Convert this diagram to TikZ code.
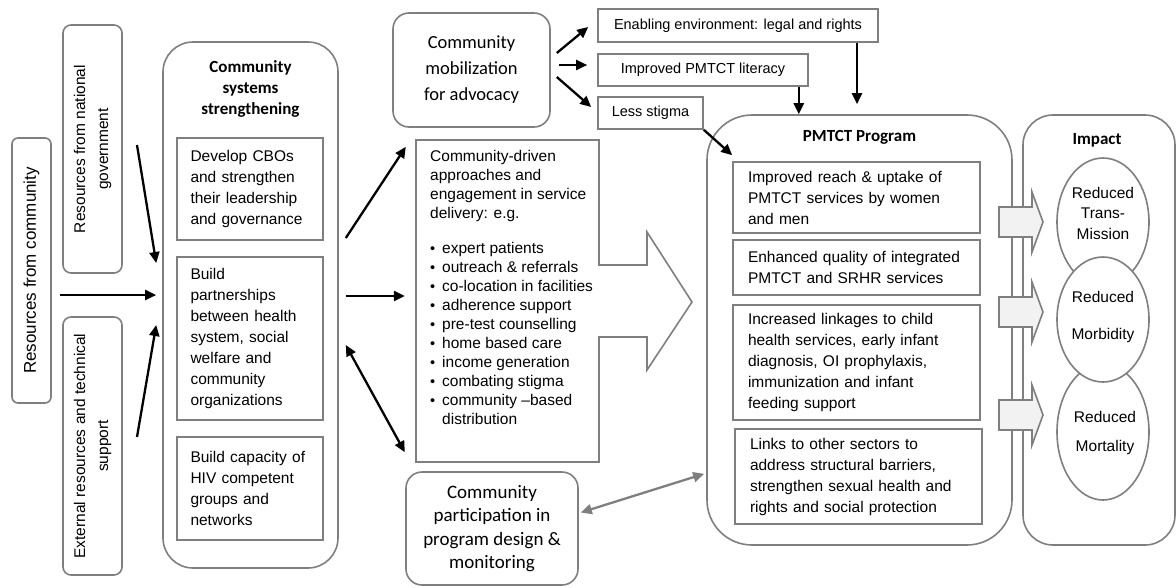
\documentclass[tikz,border=0pt]{standalone}
\usepackage{fontspec}
\setmainfont{Liberation Sans}
\newfontfamily\calfont{Carlito}
\usetikzlibrary{arrows.meta,shapes.geometric,calc}
\definecolor{bord}{HTML}{7F7F7F}
\definecolor{arrfill}{HTML}{F2F2F2}
\newcommand\bul{\makebox[12pt][l]{\fontsize{14.5}{14}\selectfont\textbullet}}
\begin{document}
\begin{tikzpicture}[x=1pt,y=-1pt,
  box/.style={draw=bord, line width=1.6pt, inner sep=0pt, fill=white},
  rbox/.style={box, rounded corners=#1},
  body/.style={font=\fontsize{15.5}{21}\selectfont},
  tbox/.style={box, body, align=left, inner xsep=14pt},
  ttl/.style={font=\calfont\bfseries\fontsize{17}{21}\selectfont, align=center, inner sep=0pt},
  small/.style={box, font=\fontsize{14.5}{17}\selectfont},
  ell/.style={ellipse, draw=bord, line width=1.6pt, fill=white, inner sep=0pt, minimum width=92pt},
  etxt/.style={inner sep=0pt, align=center},
  arr/.style={line width=2.3pt, -{Triangle[length=11pt,width=10pt]}},
  darr/.style={line width=2.3pt, {Triangle[length=11pt,width=10pt]}-{Triangle[length=11pt,width=10pt]}},
  garr/.style={draw=bord, line width=2.3pt, {Triangle[length=11pt,width=10pt]}-{Triangle[length=11pt,width=10pt]}},
  fat/.style={draw=bord, line width=1.6pt, fill=arrfill, line join=miter}
]
\useasboundingbox (0,0) rectangle (1176,587);

% left resources
\node[rbox=6pt, rotate=90, minimum width=265pt, minimum height=39pt, font=\fontsize{17}{20}\selectfont] (rc) at (31.5,270.5) {Resources from community};
\node[rbox=8pt, rotate=90, minimum width=248pt, minimum height=59pt, align=center, font=\fontsize{15.5}{23}\selectfont] (rng) at (92.5,149) {Resources from national\\government};
\node[rbox=8pt, rotate=90, minimum width=258pt, minimum height=59pt, align=center, font=\fontsize{15.5}{23}\selectfont] (ext) at (92.5,446) {External resources and technical\\support};

% community systems strengthening
\node[rbox=30pt, minimum width=175pt, minimum height=526pt] (css) at (250.5,305) {};
\node[ttl] (csst) at (250.5,89) {Community\\systems\\strengthening};
\node[tbox, inner xsep=13.5pt, minimum width=146pt, minimum height=102pt, text width=119pt] (c1) at (250,189) {Develop CBOs\\and strengthen\\their leadership\\and governance};
\node[tbox, inner xsep=13.5pt, minimum width=146pt, minimum height=163pt, text width=119pt] (c2) at (250,338.5) {Build\\partnerships\\between health\\system, social\\welfare and\\community\\organizations};
\node[tbox, inner xsep=13.5pt, minimum width=146pt, minimum height=103pt, text width=119pt] (c3) at (250,488.5) {Build capacity of\\HIV competent\\groups and\\networks};

% mobilization
\node[rbox=16pt, minimum width=157pt, minimum height=114pt, align=center, font=\calfont\fontsize{18.5}{26}\selectfont] (mob) at (471.5,70) {Community\\mobilization\\for advocacy};
\node[small, minimum width=280pt, minimum height=33pt] (env) at (738,25.5) {Enabling environment: legal and rights};
\node[small, minimum width=210pt, minimum height=32pt] (lit) at (703,70) {Improved PMTCT literacy};
\node[small, minimum width=105pt, minimum height=32pt] (stig) at (650.5,113) {Less stigma};

% community-driven approaches (box with fat arrow)
\node[inner sep=0pt, minimum width=183pt, minimum height=322pt] (cda) at (507.5,301) {};
\draw[box, line join=miter] (416,140) -- (599,140) -- (599,265) -- (647,265) -- (647,232) -- (692,302) -- (647,370) -- (647,337) -- (599,337) -- (599,462) -- (416,462) -- cycle;
\node[anchor=north west, inner sep=0pt, align=left, font=\fontsize{15.5}{19}\selectfont] (cdat) at (430,150) {Community-driven\\approaches and\\engagement in service\\delivery: e.g.\\[16pt]\bul expert patients\\\bul outreach \& referrals\\\bul co-location in facilities\\\bul adherence support\\\bul pre-test counselling\\\bul home based care\\\bul income generation\\\bul combating stigma\\\bul community --based\\\hspace*{12pt}distribution};

% participation
\node[rbox=16pt, minimum width=172pt, minimum height=113pt, align=center, font=\calfont\fontsize{19}{23.3}\selectfont] (part) at (492,528.5) {Community\\participation in\\program design \&\\monitoring};

% PMTCT program
\node[rbox=45pt, minimum width=305pt, minimum height=430pt] (pm) at (859.5,330) {};
\node[ttl] (pmt) at (859.5,137) {PMTCT Program};
\node[tbox, inner xsep=15pt, minimum width=247pt, minimum height=71pt, text width=217pt] (p1) at (856.5,197.5) {Improved reach \& uptake of\\PMTCT services by women\\and men};
\node[tbox, inner xsep=15pt, minimum width=247pt, minimum height=55pt, text width=217pt] (p2) at (856.5,267.5) {Enhanced quality of integrated\\PMTCT and SRHR services};
\node[tbox, inner xsep=15pt, minimum width=247pt, minimum height=115pt, text width=217pt] (p3) at (856.5,362.5) {Increased linkages to child\\health services, early infant\\diagnosis, OI prophylaxis,\\immunization and infant\\feeding support};
\node[tbox, inner xsep=15pt, minimum width=247pt, minimum height=95pt, text width=217pt] (p4) at (858.5,476.5) {Links to other sectors to\\address structural barriers,\\strengthen sexual health and\\rights and social protection};

% Impact
\node[rbox=30pt, minimum width=152pt, minimum height=430pt] (imp) at (1099,330) {};
\node[ttl] (impt) at (1097,140) {Impact};

\foreach \c in {222,312,415}
  \draw[fat] (999,\c-15) -- (1032,\c-15) -- (1032,\c-30) -- (1043,\c) -- (1032,\c+30) -- (1032,\c+15) -- (999,\c+15) -- cycle;

\node[ell, minimum height=128pt] (e1) at (1103,222) {};
\node[ell, minimum height=136pt] (e3) at (1103,432) {};
\node[ell, minimum height=125pt] (e2) at (1103,319.5) {};
\node[etxt, body, font=\fontsize{15.5}{20.5}\selectfont] (e1t) at (1103,213) {Reduced\\Trans-\\Mission};
\node[etxt, body] (e2t) at (1103,316.5) {Reduced\\[16pt]Morbidity};
\node[etxt, body] (e3t) at (1105,432.5) {Reduced\\[8pt]Mortality};

% connectors
\draw[arr] ([shift={(44.5,-4)}]rng.center) -- ([shift={(-6,-42)}]css.west);
\draw[arr] ([shift={(28.5,24.5)}]rc.center) -- ([shift={(-6,-10)}]css.west);
\draw[arr] ([shift={(44.5,-9)}]ext.center) -- ([shift={(-6,20)}]css.west);
\draw[arr] ([shift={(7,-67)}]css.east) -- ([shift={(-10,7)}]cda.north west);
\draw[arr] ([shift={(7,-9)}]css.east) -- ([shift={(-11,-5)}]cda.west);
\draw[darr] ([shift={(7,40)}]css.east) -- ([shift={(-11,-10)}]cda.south west);
\draw[arr] ([shift={(6,-17)}]mob.east) -- ([shift={(-9,1.5)}]env.west);
\draw[arr] ([shift={(8,-5)}]mob.east) -- ([shift={(-10,-5)}]lit.west);
\draw[arr] ([shift={(6,7)}]mob.east) -- ([shift={(-6,-6)}]stig.west);
\draw[arr, shorten >=10pt] ([xshift=119pt]env.south) -- ([xshift=119pt]env.south |- pm.north);
\draw[arr] ([xshift=-10pt]lit.south east) -- ([xshift=-10pt]lit.south east |- pm.north);
\draw[arr] (stig.south east) -- ([shift={(0,-6)}]p1.north west);
\draw[garr] ([shift={(2,-16)}]part.east) -- ([shift={(-2,-72)}]pm.south west);
\end{tikzpicture}
\end{document}
